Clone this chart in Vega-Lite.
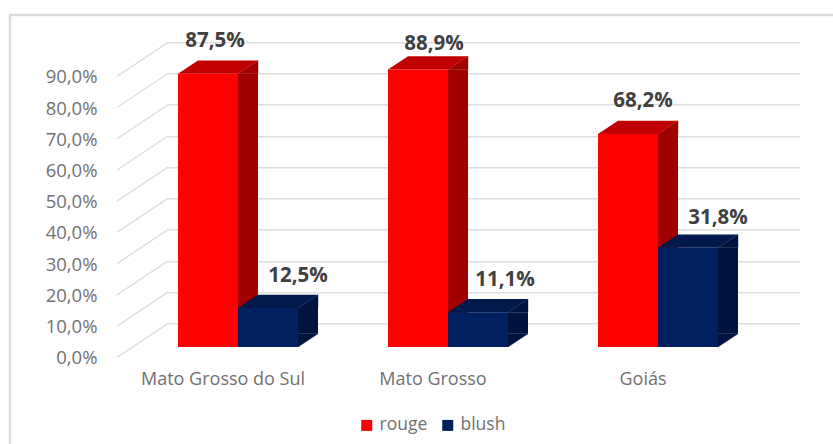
{
  "$schema": "https://vega.github.io/schema/vega-lite/v6.json",
  "width": 632,
  "height": 281,
  "padding": {"left": 168, "top": 42.3, "right": 33, "bottom": 120.7},
  "autosize": "none",
  "background": "white",
  "config": {"view": {"stroke": null}, "font": "Open Sans"},
  "datasets": {
    "shares": [
      {"region": "Mato Grosso do Sul", "series": "rouge", "value": 87.5},
      {"region": "Mato Grosso do Sul", "series": "blush", "value": 12.5},
      {"region": "Mato Grosso", "series": "rouge", "value": 88.9},
      {"region": "Mato Grosso", "series": "blush", "value": 11.1},
      {"region": "Goiás", "series": "rouge", "value": 68.2},
      {"region": "Goiás", "series": "blush", "value": 31.8}
    ],
    "ticks": [
      {"region": "Mato Grosso do Sul", "value": 0},
      {"region": "Mato Grosso do Sul", "value": 10},
      {"region": "Mato Grosso do Sul", "value": 20},
      {"region": "Mato Grosso do Sul", "value": 30},
      {"region": "Mato Grosso do Sul", "value": 40},
      {"region": "Mato Grosso do Sul", "value": 50},
      {"region": "Mato Grosso do Sul", "value": 60},
      {"region": "Mato Grosso do Sul", "value": 70},
      {"region": "Mato Grosso do Sul", "value": 80},
      {"region": "Mato Grosso do Sul", "value": 90}
    ]
  },
  "data": {"name": "shares"},
  "transform": [
    {"calculate": "replace(format(datum.value, '.1f'), '.', ',') + '%'", "as": "label"}
  ],
  "encoding": {
    "x": {
      "field": "region",
      "type": "nominal",
      "sort": ["Mato Grosso do Sul", "Mato Grosso", "Goiás"],
      "scale": {"paddingInner": 0, "paddingOuter": 0.00476},
      "axis": {
        "title": null,
        "labelAngle": 0,
        "labelOffset": -51,
        "labelPadding": 47,
        "labelFontSize": 18,
        "labelColor": "#717171",
        "labelFont": "Open Sans",
        "domain": false,
        "ticks": false,
        "grid": false
      }
    },
    "y": {
      "field": "value",
      "type": "quantitative",
      "scale": {"domain": [0, 90], "nice": false, "zero": true},
      "axis": {
        "title": null,
        "values": [0, 10, 20, 30, 40, 50, 60, 70, 80, 90],
        "labelExpr": "replace(format(datum.value, '.1f'), '.', ',') + '%'",
        "labelOffset": 34.5,
        "labelPadding": 71,
        "labelFontSize": 18.5,
        "labelColor": "#717171",
        "labelFont": "Open Sans",
        "domain": false,
        "ticks": false,
        "grid": true,
        "gridColor": "#dedede",
        "gridWidth": 1.6
      }
    }
  },
  "layer": [
    {
      "data": {"name": "ticks"},
      "transform": [{"filter": "datum.value == 90"}],
      "mark": {"type": "point", "shape": "M-264,401.7L-264,-27.3L559,-27.3", "size": 4, "filled": false, "stroke": "#dadada", "strokeWidth": 2.4, "opacity": 1}
    },
    {
      "data": {"name": "ticks"},
      "mark": {"type": "point", "shape": "M-106,0L-157,34", "size": 4, "filled": false, "stroke": "#dedede", "strokeWidth": 1.4, "opacity": 1}
    },
    {
      "transform": [{"filter": "datum.series == 'rouge'"}],
      "layer": [
        {"mark": {"type": "bar", "width": 20, "xOffset": -26, "yOffset": 23.7, "y2Offset": 10.4, "fill": "#a00000"}, "encoding": {"y2": {"datum": 0}}},
        {"mark": {"type": "point", "shape": "M60,0L80,-13.3L80,0Z", "size": 4, "filled": true, "fill": "#a00000", "stroke": "#a00000", "strokeWidth": 0.4, "opacity": 1, "xOffset": -96, "yOffset": 23.7}},
        {"mark": {"type": "point", "shape": "M0,0L60,0L80,-13.3L20,-13.3Z", "size": 4, "filled": true, "fill": "#c00000", "opacity": 1, "xOffset": -96, "yOffset": 23.7}},
        {
          "mark": {"type": "bar", "width": 60, "xOffset": -66, "yOffset": 23.7, "y2Offset": 23.7},
          "encoding": {
            "y2": {"datum": 0},
            "color": {
              "field": "series",
              "type": "nominal",
              "scale": {"domain": ["rouge", "blush"], "range": ["#ff0000", "#002060"]},
              "legend": {
                "orient": "none",
                "legendX": 190,
                "legendY": 374,
                "direction": "horizontal",
                "title": null,
                "symbolType": "square",
                "symbolSize": 121,
                "symbolStrokeWidth": 0,
                "labelFontSize": 17.5,
                "labelColor": "#717171",
                "labelFont": "Open Sans",
                "columnPadding": 11
              }
            }
          }
        }
      ]
    },
    {
      "transform": [{"filter": "datum.series == 'blush'"}],
      "layer": [
        {"mark": {"type": "bar", "width": 20, "xOffset": 34, "yOffset": 23.7, "y2Offset": 10.4, "fill": "#00133f"}, "encoding": {"y2": {"datum": 0}}},
        {"mark": {"type": "point", "shape": "M60,0L80,-13.3L80,0Z", "size": 4, "filled": true, "fill": "#00133f", "stroke": "#00133f", "strokeWidth": 0.4, "opacity": 1, "xOffset": -36, "yOffset": 23.7}},
        {"mark": {"type": "point", "shape": "M0,0L60,0L80,-13.3L20,-13.3Z", "size": 4, "filled": true, "fill": "#00184a", "opacity": 1, "xOffset": -36, "yOffset": 23.7}},
        {"mark": {"type": "point", "shape": "M60,0L80,-13.3L60,-13.3Z", "size": 4, "filled": true, "fill": "#00133f", "stroke": "#00133f", "strokeWidth": 0.4, "opacity": 1, "xOffset": -36, "yOffset": 23.7}, "encoding": {"y": {"datum": 0}}},
        {
          "mark": {"type": "bar", "width": 60, "xOffset": -6, "yOffset": 23.7, "y2Offset": 23.7},
          "encoding": {
            "y2": {"datum": 0},
            "color": {"field": "series", "type": "nominal"}
          }
        }
      ]
    },
    {
      "transform": [{"filter": "datum.series == 'rouge' && datum.region == 'Mato Grosso do Sul'"}],
      "mark": {"type": "text", "fontSize": 20.5, "fontWeight": "bold", "font": "Open Sans", "fill": "#404040", "xOffset": -59, "yOffset": -9},
      "encoding": {"text": {"field": "label"}}
    },
    {
      "transform": [{"filter": "datum.series == 'rouge' && datum.region == 'Mato Grosso'"}],
      "mark": {"type": "text", "fontSize": 20.5, "fontWeight": "bold", "font": "Open Sans", "fill": "#404040", "xOffset": -50, "yOffset": -2},
      "encoding": {"text": {"field": "label"}}
    },
    {
      "transform": [{"filter": "datum.series == 'rouge' && datum.region == 'Goiás'"}],
      "mark": {"type": "text", "fontSize": 20.5, "fontWeight": "bold", "font": "Open Sans", "fill": "#404040", "xOffset": -51, "yOffset": -9},
      "encoding": {"text": {"field": "label"}}
    },
    {
      "transform": [{"filter": "datum.series == 'blush' && datum.region == 'Mato Grosso do Sul'"}],
      "mark": {"type": "text", "fontSize": 20.5, "fontWeight": "bold", "font": "Open Sans", "fill": "#404040", "xOffset": 24, "yOffset": -8},
      "encoding": {"text": {"field": "label"}}
    },
    {
      "transform": [{"filter": "datum.series == 'blush' && datum.region == 'Mato Grosso'"}],
      "mark": {"type": "text", "fontSize": 20.5, "fontWeight": "bold", "font": "Open Sans", "fill": "#404040", "xOffset": 21, "yOffset": -9},
      "encoding": {"text": {"field": "label"}}
    },
    {
      "transform": [{"filter": "datum.series == 'blush' && datum.region == 'Goiás'"}],
      "mark": {"type": "text", "fontSize": 20.5, "fontWeight": "bold", "font": "Open Sans", "fill": "#404040", "xOffset": 24, "yOffset": -6},
      "encoding": {"text": {"field": "label"}}
    }
  ]
}
